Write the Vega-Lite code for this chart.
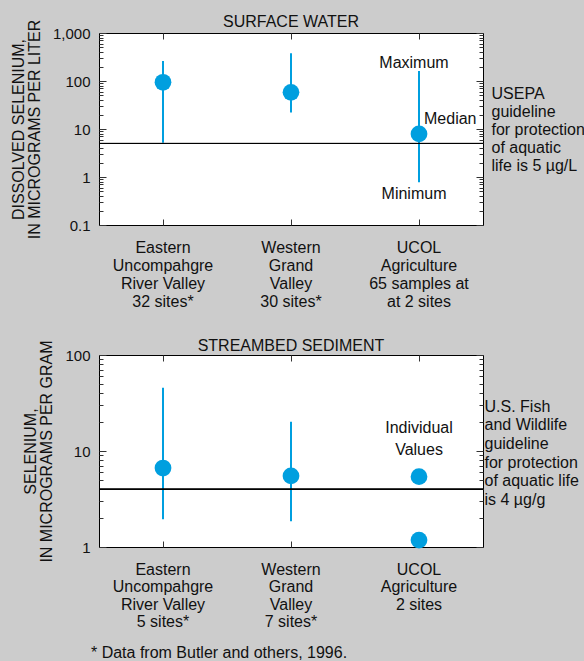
{
  "$schema": "https://vega.github.io/schema/vega-lite/v6.json",
  "background": "#cccccc",
  "padding": {"left": 9, "top": 13, "right": 2, "bottom": 0},
  "datasets": {
    "sw": [
      {"site": "Eastern|Uncompahgre|River Valley|32 sites*", "min": 5.2, "median": 94, "max": 261},
      {"site": "Western|Grand|Valley|30 sites*", "min": 22, "median": 58, "max": 377},
      {"site": "UCOL|Agriculture|65 samples at|at 2 sites", "min": 0.78, "median": 7.9, "max": 161}
    ],
    "sed": [
      {"site": "Eastern|Uncompahgre|River Valley|5 sites*", "min": 1.95, "max": 45.6, "value": 6.65},
      {"site": "Western|Grand|Valley|7 sites*", "min": 1.86, "max": 20.2, "value": 5.5},
      {"site": "UCOL|Agriculture|2 sites", "value": 5.4},
      {"site": "UCOL|Agriculture|2 sites", "value": 1.18}
    ]
  },
  "config": {
    "font": "Liberation Sans",
    "view": {"fill": "white", "stroke": "black", "strokeWidth": 1},
    "axis": {
      "grid": false, "domain": false, "zindex": 1, "ticks": false,
      "labelFont": "Liberation Sans", "labelFontSize": 15, "labelColor": "#111",
      "titleFont": "Liberation Sans", "titleFontSize": 16, "titleFontWeight": "normal", "titleColor": "#111",
      "gridColor": "#333", "gridWidth": 1, "gridOpacity": 1
    },
    "title": {"font": "Liberation Sans", "fontSize": 16, "fontWeight": "normal", "color": "#111"},
    "concat": {"spacing": 27}
  },
  "title": {"text": "* Data from Butler and others, 1996.", "orient": "bottom", "anchor": "start", "dx": 81, "offset": 15},
  "vconcat": [
    {
      "width": 384, "height": 192,
      "title": {"text": "SURFACE WATER", "offset": -11},
      "data": {"name": "sw"},
      "resolve": {"axis": {"x": "independent", "y": "independent"}},
      "layer": [
        {
          "mark": {"type": "rule", "color": "#009fdf", "strokeWidth": 2},
          "encoding": {
            "x": {"field": "site", "type": "nominal",
              "scale": {"type": "band", "paddingInner": 0, "paddingOuter": 0,
                "domain": ["Eastern|Uncompahgre|River Valley|32 sites*", "Western|Grand|Valley|30 sites*", "UCOL|Agriculture|65 samples at|at 2 sites"]},
              "axis": {"orient": "bottom", "title": null, "labelAngle": 0, "labelExpr": "split(datum.label, '|')", "labelFontSize": 16, "labelLineHeight": 18, "labelBaseline": "top", "labelPadding": 14,
                "grid": true, "gridDash": [6, 180, 6]}},
            "y": {"field": "min", "type": "quantitative",
              "scale": {"type": "log", "domain": [0.1, 1000], "nice": false},
              "axis": {"orient": "left", "title": ["DISSOLVED SELENIUM,", "IN MICROGRAMS PER LITER"], "titleLineHeight": 16, "titlePadding": 10,
                "values": [0.1, 1, 10, 100, 1000], "format": ",",
                "labelOverlap": false, "labelFlush": false, "labelPadding": 9,
                "grid": true, "gridDash": [7, 370, 7]}},
            "y2": {"field": "max"}
          }
        },
        {
          "mark": {"type": "circle", "size": 280, "color": "#009fdf", "opacity": 1},
          "encoding": {
            "x": {"field": "site", "type": "nominal", "axis": null},
            "y": {"field": "median", "type": "quantitative",
              "axis": {"orient": "right", "labels": false, "values": [1000],
                "title": ["USEPA", "guideline", "for protection", "of aquatic", "life is 5 µg/L"],
                "titleAngle": 0, "titleAlign": "left", "titleBaseline": "top", "titleX": 8, "titleY": 52, "titleLineHeight": 18}}
          }
        },
        {
          "mark": {"type": "rule", "color": "black", "strokeWidth": 1},
          "encoding": {"y": {"datum": 5, "type": "quantitative",
            "axis": {"orient": "left", "title": null, "labels": false, "grid": true, "gridDash": [4, 376, 4],
              "values": [0.2,0.3,0.4,0.5,0.6,0.7,0.8,0.9,2,3,4,5,6,7,8,9,20,30,40,50,60,70,80,90,200,300,400,500,600,700,800,900]}}}
        },
        {
          "transform": [{"filter": "indexof(datum.site, 'UCOL') == 0"}],
          "mark": {"type": "text", "text": "Maximum", "fontSize": 16, "dx": -5, "dy": -8, "baseline": "middle", "color": "#111"},
          "encoding": {"x": {"field": "site", "type": "nominal", "axis": null}, "y": {"field": "max", "type": "quantitative", "axis": null}}
        },
        {
          "transform": [{"filter": "indexof(datum.site, 'UCOL') == 0"}],
          "mark": {"type": "text", "text": "Median", "fontSize": 16, "align": "left", "dx": 5, "dy": -15, "baseline": "middle", "color": "#111"},
          "encoding": {"x": {"field": "site", "type": "nominal", "axis": null}, "y": {"field": "median", "type": "quantitative", "axis": null}}
        },
        {
          "transform": [{"filter": "indexof(datum.site, 'UCOL') == 0"}],
          "mark": {"type": "text", "text": "Minimum", "fontSize": 16, "dx": -5, "dy": 12, "baseline": "middle", "color": "#111"},
          "encoding": {"x": {"field": "site", "type": "nominal", "axis": null}, "y": {"field": "min", "type": "quantitative", "axis": null}}
        }
      ]
    },
    {
      "width": 384, "height": 192,
      "title": {"text": "STREAMBED SEDIMENT", "offset": -14},
      "data": {"name": "sed"},
      "resolve": {"axis": {"x": "independent", "y": "independent"}},
      "layer": [
        {
          "mark": {"type": "rule", "color": "#009fdf", "strokeWidth": 2},
          "encoding": {
            "x": {"field": "site", "type": "nominal",
              "scale": {"type": "band", "paddingInner": 0, "paddingOuter": 0,
                "domain": ["Eastern|Uncompahgre|River Valley|5 sites*", "Western|Grand|Valley|7 sites*", "UCOL|Agriculture|2 sites"]},
              "axis": {"orient": "bottom", "title": null, "labelAngle": 0, "labelExpr": "split(datum.label, '|')", "labelFontSize": 16, "labelLineHeight": 17.5, "labelBaseline": "top", "labelPadding": 14,
                "grid": true, "gridDash": [6, 180, 6]}},
            "y": {"field": "min", "type": "quantitative",
              "scale": {"type": "log", "domain": [1, 100], "nice": false},
              "axis": {"orient": "left", "title": ["SELENIUM,", "IN MICROGRAMS PER GRAM"], "titleLineHeight": 16, "titlePadding": 10,
                "values": [1, 10, 100], "format": ",",
                "labelOverlap": false, "labelFlush": false, "labelPadding": 9,
                "grid": true, "gridDash": [7, 370, 7]}},
            "y2": {"field": "max"}
          }
        },
        {
          "mark": {"type": "circle", "size": 280, "color": "#009fdf", "opacity": 1},
          "encoding": {
            "x": {"field": "site", "type": "nominal", "axis": null},
            "y": {"field": "value", "type": "quantitative",
              "axis": {"orient": "right", "labels": false, "values": [100],
                "title": ["U.S. Fish", "and Wildlife", "guideline", "for protection", "of aquatic life", "\u00a0is 4 µg/g"],
                "titleAngle": 0, "titleAlign": "left", "titleBaseline": "top", "titleX": 1, "titleY": 43, "titleLineHeight": 18.7}}
          }
        },
        {
          "mark": {"type": "rule", "color": "black", "strokeWidth": 1},
          "encoding": {"y": {"datum": 4, "type": "quantitative",
            "axis": {"orient": "left", "title": null, "labels": false, "grid": true, "gridDash": [4, 376, 4],
              "values": [2,3,4,5,6,7,8,9,20,30,40,50,60,70,80,90]}}}
        },
        {
          "transform": [{"filter": "indexof(datum.site, 'UCOL') == 0 && datum.value > 3"}],
          "mark": {"type": "text", "text": ["Individual", "Values"], "lineHeight": 22, "fontSize": 16, "dy": -41, "baseline": "bottom", "color": "#111"},
          "encoding": {"x": {"field": "site", "type": "nominal", "axis": null}, "y": {"field": "value", "type": "quantitative", "axis": null}}
        }
      ]
    }
  ]
}
